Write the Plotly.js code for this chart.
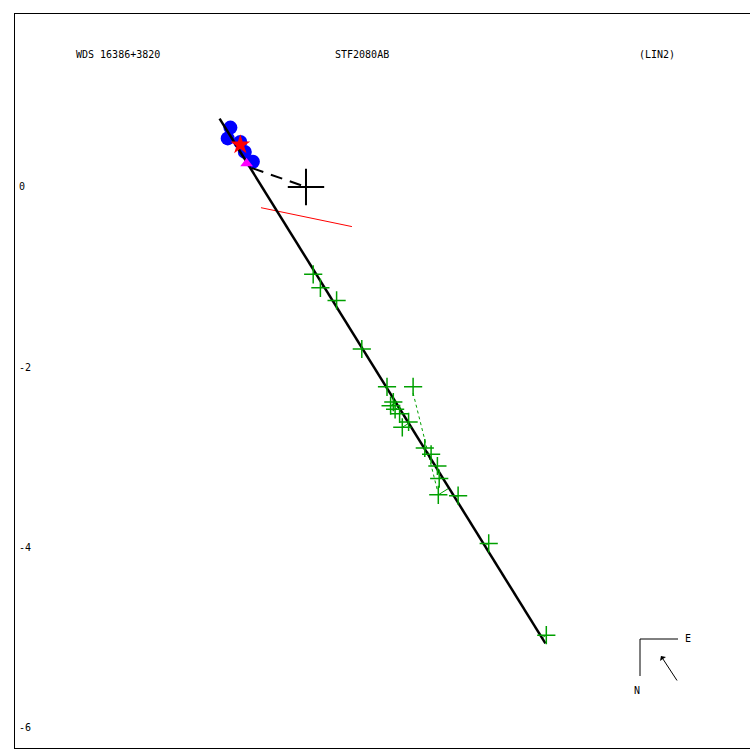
<!DOCTYPE html>
<html>
<head>
<meta charset="utf-8">
<script src="https://cdn.plot.ly/plotly-3.0.1.min.js"></script>
<style>html,body{margin:0;padding:0;background:#fff}</style>
</head>
<body>
<div id="chart" style="width:750px;height:750px"></div>
<script>
// Data (arcsec)
const orbitX = [-0.96, 2.66];
const orbitY = [0.76, -5.07];
const obsX = [0.08, 0.16, 0.34, 0.62, 0.90, 1.19, 0.97, 0.94, 0.99, 1.04, 1.14, 1.07, 1.32, 1.39, 1.46, 1.48, 1.47, 1.69, 2.03, 2.67];
const obsY = [-0.97, -1.12, -1.26, -1.80, -2.22, -2.22, -2.39, -2.43, -2.47, -2.52, -2.61, -2.67, -2.90, -2.97, -3.10, -3.24, -3.42, -3.43, -3.96, -4.98];
const rejected = [false, false, false, false, false, true, false, false, false, false, false, false, false, false, false, false, false, false, false, false];
const blueX = [-0.84, -0.87, -0.73, -0.68, -0.59];
const blueY = [0.66, 0.54, 0.50, 0.39, 0.28];
const starX = [-0.73], starY = [0.47];
const triX = [-0.66], triY = [0.26];
const dashX = [-0.60, 0.0], dashY = [0.21, 0.0];
const redX = [-0.50, 0.51], redY = [-0.23, -0.44];
const dotX = [1.19, 1.46], dotY = [-2.29, -3.37];
const yTicks = [0, -2, -4, -6];
const tickText = ['0', '-2', '-4', '-6'];
const titleLeft = 'WDS 16386+3820', titleMid = 'STF2080AB', titleRight = '(LIN2)';

// O-C connectors: projection of each accepted observation onto the orbit line
const dx = orbitX[1] - orbitX[0], dy = orbitY[1] - orbitY[0];
const L2 = dx * dx + dy * dy;
const ocX = [], ocY = [];
for (let i = 0; i < obsX.length; i++) {
  if (rejected[i]) continue;
  const t = ((obsX[i] - orbitX[0]) * dx + (obsY[i] - orbitY[0]) * dy) / L2;
  ocX.push(obsX[i], orbitX[0] + t * dx, null);
  ocY.push(obsY[i], orbitY[0] + t * dy, null);
}

const green = '#00a000';
const traces = [
  {x: ocX, y: ocY, mode: 'lines', line: {color: green, width: 1}, hoverinfo: 'skip'},
  {x: dotX, y: dotY, mode: 'lines', line: {color: green, width: 1, dash: 'dot'}, hoverinfo: 'skip'},
  {x: redX, y: redY, mode: 'lines', line: {color: '#ff0000', width: 1}},
  {x: blueX, y: blueY, mode: 'markers', marker: {color: '#0000ff', size: 14, symbol: 'circle'}},
  {x: orbitX, y: orbitY, mode: 'lines', line: {color: '#000000', width: 2.5}},
  {x: dashX, y: dashY, mode: 'lines', line: {color: '#000000', width: 2, dash: '12px,8px'}},
  {x: starX, y: starY, mode: 'markers', marker: {color: '#ff0000', size: 15, symbol: 'star'}},
  {x: triX, y: triY, mode: 'markers', marker: {color: '#ff00ff', size: 11, symbol: 'triangle-up'}},
  {x: obsX, y: obsY, mode: 'markers', marker: {symbol: 'cross-thin-open', size: 13, color: green, line: {color: green, width: 1.5}}},
  {x: [0], y: [0], mode: 'markers', marker: {symbol: 'cross-thin-open', size: 26, color: '#000000', line: {color: '#000000', width: 2}}}
];

const font = {family: 'DejaVu Sans Mono, monospace', size: 10, color: '#000'};
const layout = {
  width: 750, height: 750,
  margin: {l: 15, t: 14, r: 0, b: 2, pad: 0},
  showlegend: false,
  paper_bgcolor: '#fff', plot_bgcolor: '#fff',
  font: font,
  xaxis: {range: [-3.233, 4.933], showgrid: false, zeroline: false, showticklabels: false, ticks: '',
          showline: true, mirror: true, linecolor: '#000', linewidth: 1},
  yaxis: {range: [-6.233, 1.922], showgrid: false, zeroline: false, tickvals: yTicks, ticktext: tickText,
          ticks: '', ticklabelposition: 'inside', ticklabelstandoff: 3, tickfont: font,
          showline: true, mirror: true, linecolor: '#000', linewidth: 1},
  annotations: [
    {xref: 'paper', yref: 'paper', x: (74 - 15) / 735, y: (748 - 55) / 734, text: titleLeft, showarrow: false, xanchor: 'left', yanchor: 'middle', font: font},
    {xref: 'paper', yref: 'paper', x: (362 - 15) / 735, y: (748 - 55) / 734, text: titleMid, showarrow: false, xanchor: 'center', yanchor: 'middle', font: font},
    {xref: 'paper', yref: 'paper', x: (637 - 15) / 735, y: (748 - 55) / 734, text: titleRight, showarrow: false, xanchor: 'left', yanchor: 'middle', font: font},
    {xref: 'paper', yref: 'paper', x: (688 - 15) / 735, y: (748 - 638) / 734, text: 'E', showarrow: false, xanchor: 'center', yanchor: 'middle', font: font},
    {xref: 'paper', yref: 'paper', x: (637 - 15) / 735, y: (748 - 690) / 734, text: 'N', showarrow: false, xanchor: 'center', yanchor: 'middle', font: font},
    {xref: 'paper', yref: 'paper', x: (661 - 15) / 735, y: (748 - 656) / 734, ax: 678 - 661, ay: 682 - 656,
     axref: 'pixel', ayref: 'pixel', text: '', showarrow: true, arrowhead: 1, arrowsize: 1.2, arrowwidth: 1, arrowcolor: '#000'}
  ],
  shapes: [
    {type: 'line', xref: 'paper', yref: 'paper', x0: (640 - 15) / 735, y0: (748 - 639) / 734, x1: (678 - 15) / 735, y1: (748 - 639) / 734, line: {color: '#000', width: 1}},
    {type: 'line', xref: 'paper', yref: 'paper', x0: (640 - 15) / 735, y0: (748 - 639) / 734, x1: (640 - 15) / 735, y1: (748 - 676) / 734, line: {color: '#000', width: 1}}
  ]
};

Plotly.newPlot('chart', traces, layout, {displayModeBar: false, staticPlot: true});
</script>
</body>
</html>
